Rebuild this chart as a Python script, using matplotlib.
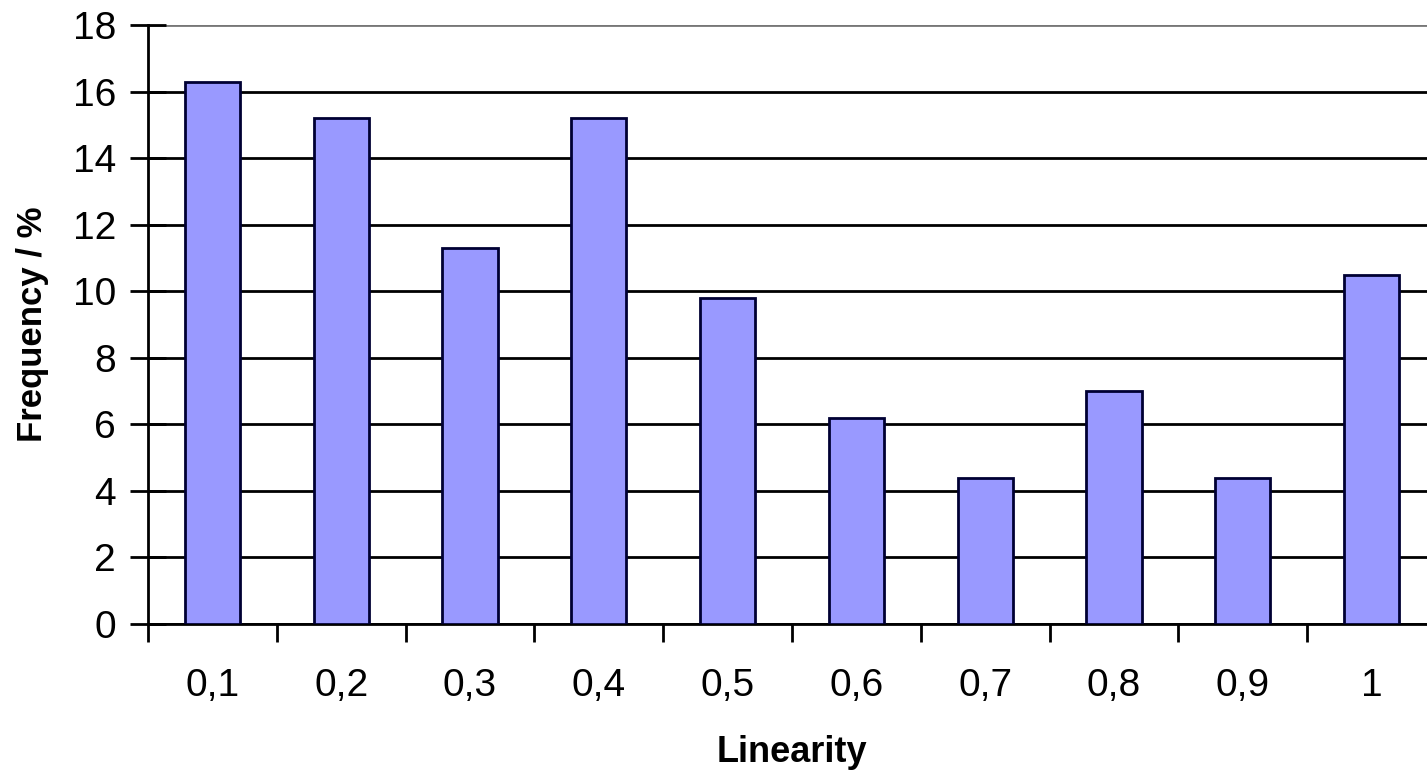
import matplotlib.pyplot as plt
import numpy as np

plt.rcParams['font.family'] = ['Liberation Sans', 'DejaVu Sans']

labels = ['0,1', '0,2', '0,3', '0,4', '0,5', '0,6', '0,7', '0,8', '0,9', '1']
freq = [16.3, 15.2, 11.3, 15.2, 9.8, 6.2, 4.4, 7.0, 4.4, 10.5]

fig = plt.figure(figsize=(14.27, 7.7), dpi=100)
ax = fig.add_axes([148/1427, 146/770, 1288/1427, 599/770])

x = np.arange(len(freq)) + 0.5
ax.bar(x, freq, width=0.43, color='#9999ff', edgecolor='#000033', linewidth=2, zorder=3)

ax.set_xlim(0, 10)
ax.set_ylim(0, 18)
ax.set_yticks(np.arange(0, 19, 2))
ax.yaxis.grid(True, color='black', linewidth=2, zorder=0)
ax.set_axisbelow(True)
ax.get_ygridlines()[-1].set_color('#777777')

ax.set_xticks(np.arange(0, 11))
ax.set_xticklabels([])
ax.set_xticks(x, minor=True)
ax.set_xticklabels(labels, minor=True)
ax.tick_params(axis='x', which='major', direction='out', length=13, width=2)
ax.tick_params(axis='x', which='minor', length=0, pad=32, labelsize=28)
ax.tick_params(axis='y', direction='inout', length=26, width=2, pad=10, labelsize=28)

for s in ['top', 'right']:
    ax.spines[s].set_visible(False)
ax.spines['left'].set_linewidth(2)
ax.spines['bottom'].set_linewidth(2)

ax.set_xlabel('Linearity', fontsize=26, fontweight='bold', labelpad=22)
ax.set_ylabel('Frequency / %', fontsize=25, fontweight='bold', labelpad=17)

fig.savefig('out.png', dpi=100)
